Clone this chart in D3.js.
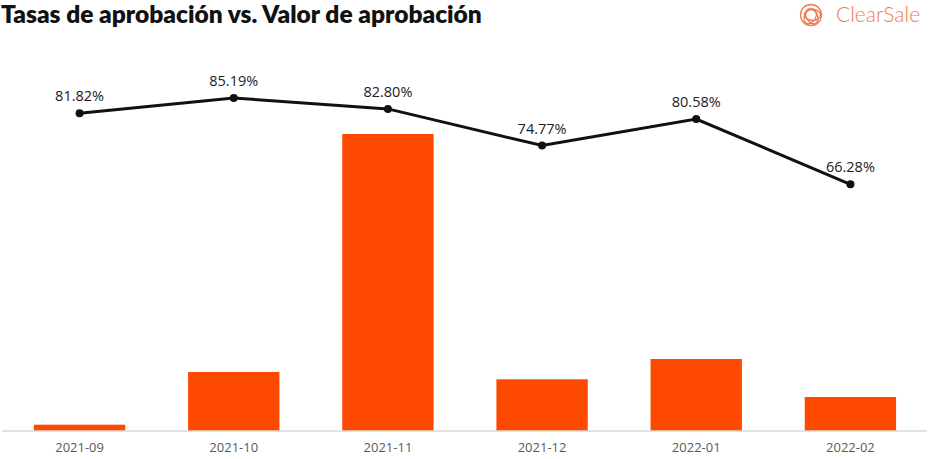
<!DOCTYPE html>
<html>
<head>
<meta charset="utf-8">
<script src="https://cdn.jsdelivr.net/npm/d3@7"></script>
<style>
  body { margin: 0; background: #fff; }
  svg { display: block; }
</style>
</head>
<body>
<svg width="930" height="459"></svg>
<script>
// months on the x axis
var months = ['2021-09', '2021-10', '2021-11', '2021-12', '2022-01', '2022-02'];
// approval rate (%), the black line
var approvalRate = [81.82, 85.19, 82.80, 74.77, 80.58, 66.28];
// approval value (relative, no axis shown), the orange bars
var approvalValue = [6.3, 59, 297, 51.7, 72, 34];

var svg = d3.select('svg');

var x = d3.scaleBand()
    .domain(months)
    .range([0, 930])
    .paddingInner(0.4075)
    .paddingOuter(0.22);

var yBar = d3.scaleLinear().domain([0, 300]).range([431, 131]);
var yLine = d3.scaleLinear().domain([60, 90]).range([213, 76]);

// title
svg.append('text')
    .attr('x', 1).attr('y', 23)
    .attr('font-family', 'Lato, sans-serif')
    .attr('font-weight', 800)
    .attr('font-size', 24.5)
    .attr('fill', '#111')
    .text('Tasas de aprobación vs. Valor de aprobación');

// logo
var logo = svg.append('g').attr('transform', 'translate(811,15)')
    .attr('fill', 'none').attr('stroke', '#f07a4e').attr('stroke-width', 1.3);
logo.append('circle').attr('r', 10.5);
[0, 60, 120].forEach(function(a) {
    logo.append('ellipse').attr('rx', 8).attr('ry', 5.5)
        .attr('transform', 'rotate(' + a + ') translate(1.5,0)');
});
svg.append('text')
    .attr('x', 836).attr('y', 22)
    .attr('font-family', 'Lato, sans-serif')
    .attr('font-weight', 300)
    .attr('font-size', 21)
    .attr('fill', '#f07a4e')
    .text('ClearSale');

// bars
svg.append('g').selectAll('rect')
    .data(approvalValue)
    .enter()
    .append('rect')
    .attr('x', function(d, i) { return x(months[i]); })
    .attr('width', x.bandwidth())
    .attr('y', function(d) { return yBar(d); })
    .attr('height', function(d) { return yBar(0) - yBar(d); })
    .attr('fill', '#fe4a01');

// baseline + tick labels
var xAxis = svg.append('g')
    .attr('transform', 'translate(0,' + yBar(0) + ')')
    .call(d3.axisBottom(x).tickSize(0).tickPadding(12));
xAxis.select('.domain').attr('stroke', '#d9d9d9').attr('stroke-width', 1.5)
    .attr('d', 'M2,0H927');
xAxis.selectAll('text')
    .attr('font-family', '"Open Sans", sans-serif')
    .attr('font-size', 13)
    .attr('fill', '#5a5a5a');

// line
var line = d3.line()
    .x(function(d, i) { return x(months[i]) + x.bandwidth() / 2; })
    .y(function(d) { return yLine(d); });

svg.append('path')
    .datum(approvalRate)
    .attr('d', line)
    .attr('fill', 'none')
    .attr('stroke', '#111')
    .attr('stroke-width', 3);

svg.append('g').selectAll('circle')
    .data(approvalRate)
    .enter()
    .append('circle')
    .attr('cx', function(d, i) { return x(months[i]) + x.bandwidth() / 2; })
    .attr('cy', function(d) { return yLine(d); })
    .attr('r', 4)
    .attr('fill', '#111');

svg.append('g').selectAll('text')
    .data(approvalRate)
    .enter()
    .append('text')
    .attr('x', function(d, i) { return x(months[i]) + x.bandwidth() / 2; })
    .attr('y', function(d) { return yLine(d) - 12; })
    .attr('text-anchor', 'middle')
    .attr('font-family', '"Open Sans", sans-serif')
    .attr('font-size', 14.5)
    .attr('fill', '#222')
    .text(function(d) { return d.toFixed(2) + '%'; });
</script>
</body>
</html>
